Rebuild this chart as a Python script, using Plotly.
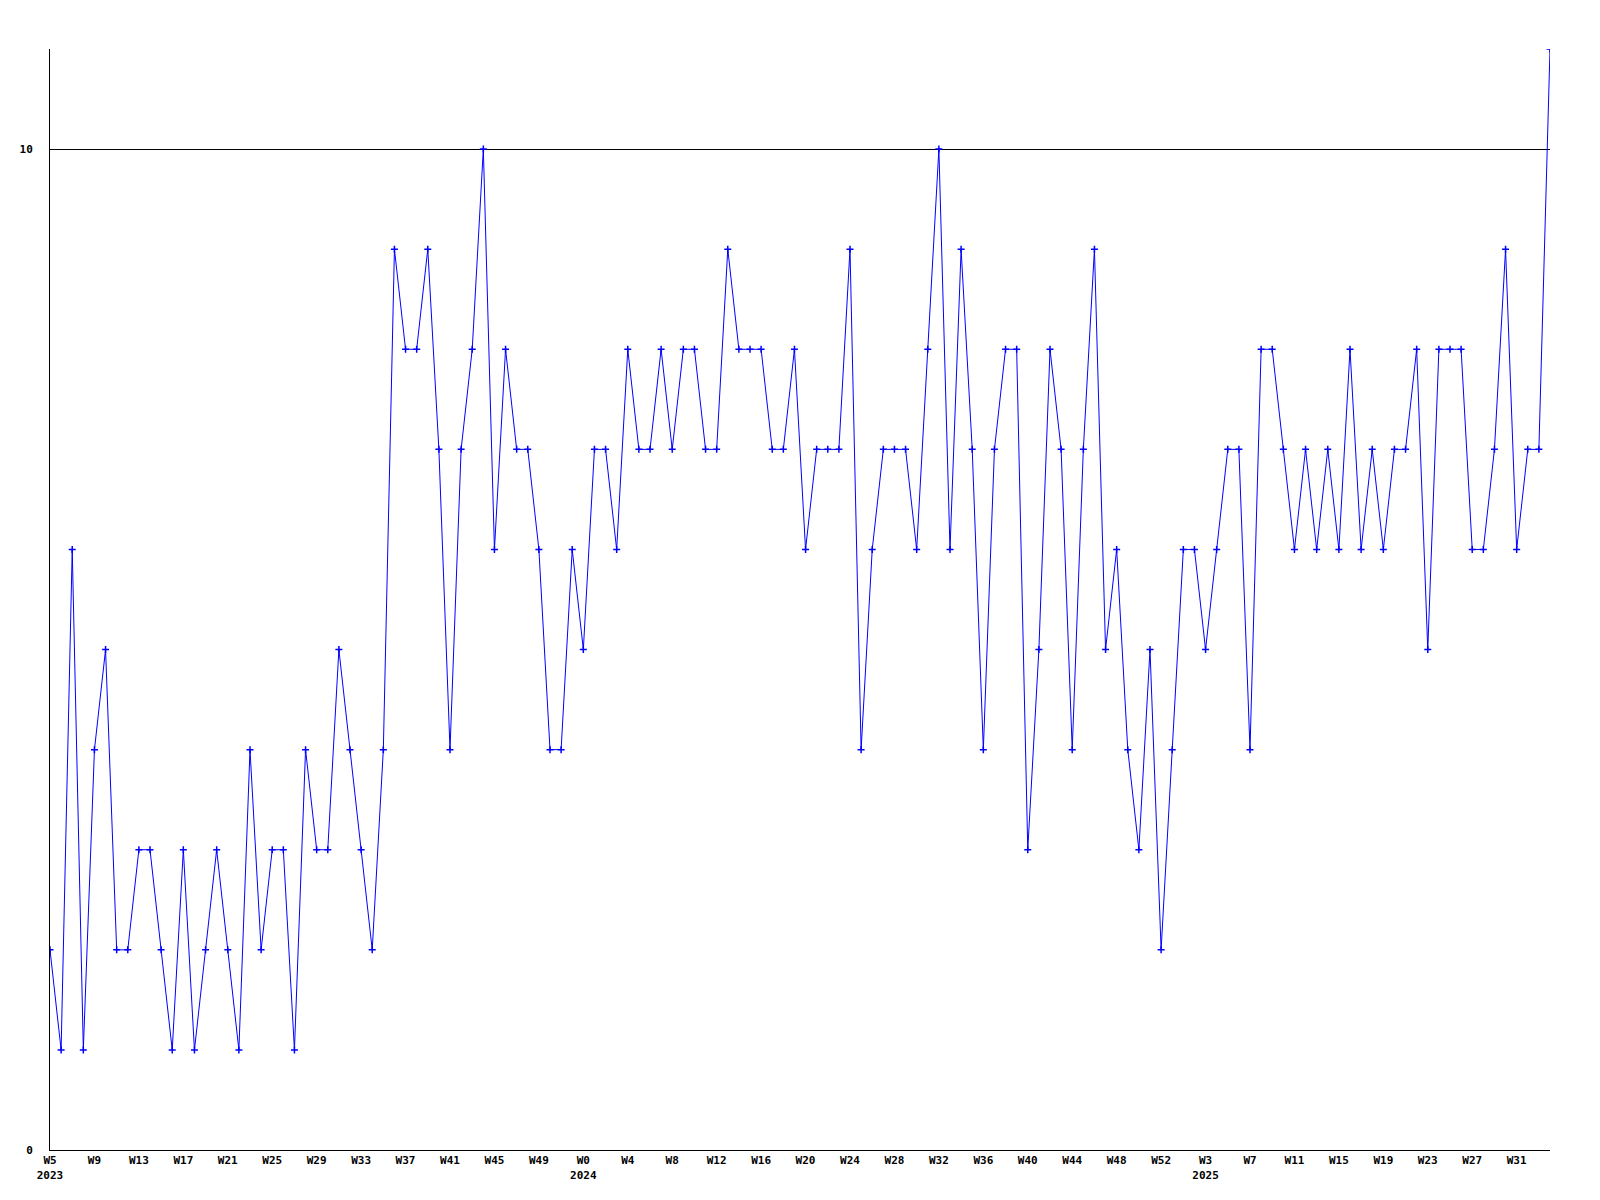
import plotly.graph_objects as go

# Weekly values (index 0 = W5 2023, last = W34 2025)
values = [
    2, 1, 6, 1, 4, 5, 2, 2, 3, 3, 2, 1, 3, 1, 2, 3, 2, 1, 4, 2,
    3, 3, 1, 4, 3, 3, 5, 4, 3, 2, 4, 9, 8, 8, 9, 7, 4, 7, 8, 10,
    6, 8, 7, 7, 6, 4, 4, 6, 5, 7, 7, 6, 8, 7, 7, 8, 7, 8, 8, 7,
    7, 9, 8, 8, 8, 7, 7, 8, 6, 7, 7, 7, 9, 4, 6, 7, 7, 7, 6, 8,
    10, 6, 9, 7, 4, 7, 8, 8, 3, 5, 8, 7, 4, 7, 9, 5, 6, 4, 3, 5,
    2, 4, 6, 6, 5, 6, 7, 7, 4, 8, 8, 7, 6, 7, 6, 7, 6, 8, 6, 7,
    6, 7, 7, 8, 5, 8, 8, 8, 6, 6, 7, 9, 6, 7, 7, 11,
]

tick_labels = [
    "W5<br>2023", "W9", "W13", "W17", "W21", "W25", "W29", "W33", "W37", "W41",
    "W45", "W49", "W0<br>2024", "W4", "W8", "W12", "W16", "W20", "W24", "W28",
    "W32", "W36", "W40", "W44", "W48", "W52", "W3<br>2025", "W7", "W11", "W15",
    "W19", "W23", "W27", "W31",
]
tick_step = 4

x = list(range(len(values)))
tick_vals = [i * tick_step for i in range(len(tick_labels))]

font = dict(family="DejaVu Sans Mono", size=11, color="black", weight="bold")

fig = go.Figure()
fig.add_trace(go.Scatter(
    x=x, y=values, mode="lines+markers",
    line=dict(color="#0000FF", width=1),
    marker=dict(color="#0000FF", size=5, symbol="cross-thin",
                line=dict(color="#0000FF", width=1.5)),
    hoverinfo="x+y",
    cliponaxis=True,
))

fig.update_layout(
    width=1600, height=1200,
    margin=dict(l=42, r=58, t=41, b=58),
    paper_bgcolor="white", plot_bgcolor="white",
    showlegend=False,
    font=font,
)
fig.update_xaxes(
    range=[0, len(values) - 1],
    tickmode="array", tickvals=tick_vals, ticktext=tick_labels,
    tickangle=0, showgrid=False, zeroline=False,
    showline=True, linecolor="black", linewidth=1,
    ticks="", tickfont=font,
)
fig.update_yaxes(
    range=[0, 11],
    tickmode="array", tickvals=[0, 10], ticktext=["0", "10"],
    showgrid=True, gridcolor="black", gridwidth=1,
    zeroline=False, showline=True, linecolor="black", linewidth=1,
    ticks="", tickfont=font, ticklabelstandoff=14,
)

fig.write_html("out.html")
